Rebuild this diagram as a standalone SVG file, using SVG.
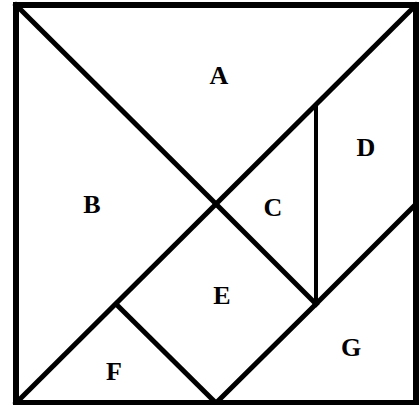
<svg xmlns="http://www.w3.org/2000/svg" width="419" height="405" viewBox="0 0 419 405">
<style>
.l{stroke:#000;stroke-width:5;fill:none;stroke-linecap:square}
.t{font-family:"Liberation Serif",serif;font-weight:bold;font-size:26px;text-anchor:middle;fill:#000}
</style>
<rect x="0" y="0" width="419" height="405" fill="#fff"/>
<g id="connectors">
<rect x="16" y="5" width="400" height="398" fill="none" stroke="#000" stroke-width="6"/>
<line class="l" x1="16" y1="5" x2="216" y2="204"/>
<line class="l" x1="416" y1="5" x2="16" y2="403"/>
<line class="l" x1="216" y1="204" x2="316" y2="304"/>
<line class="l" x1="316" y1="105" x2="316" y2="304" style="stroke-width:4"/>
<line class="l" x1="316" y1="304" x2="416" y2="204"/>
<line class="l" x1="316" y1="304" x2="216" y2="403"/>
<line class="l" x1="116" y1="304" x2="216" y2="403"/>
</g>
<g id="A"><text class="t" x="219" y="84">A</text></g>
<g id="B"><text class="t" x="92" y="213">B</text></g>
<g id="C"><text class="t" x="273" y="216">C</text></g>
<g id="D"><text class="t" x="366" y="156">D</text></g>
<g id="E"><text class="t" x="222" y="304">E</text></g>
<g id="F"><text class="t" x="114" y="380">F</text></g>
<g id="G"><text class="t" x="351" y="356">G</text></g>
</svg>
